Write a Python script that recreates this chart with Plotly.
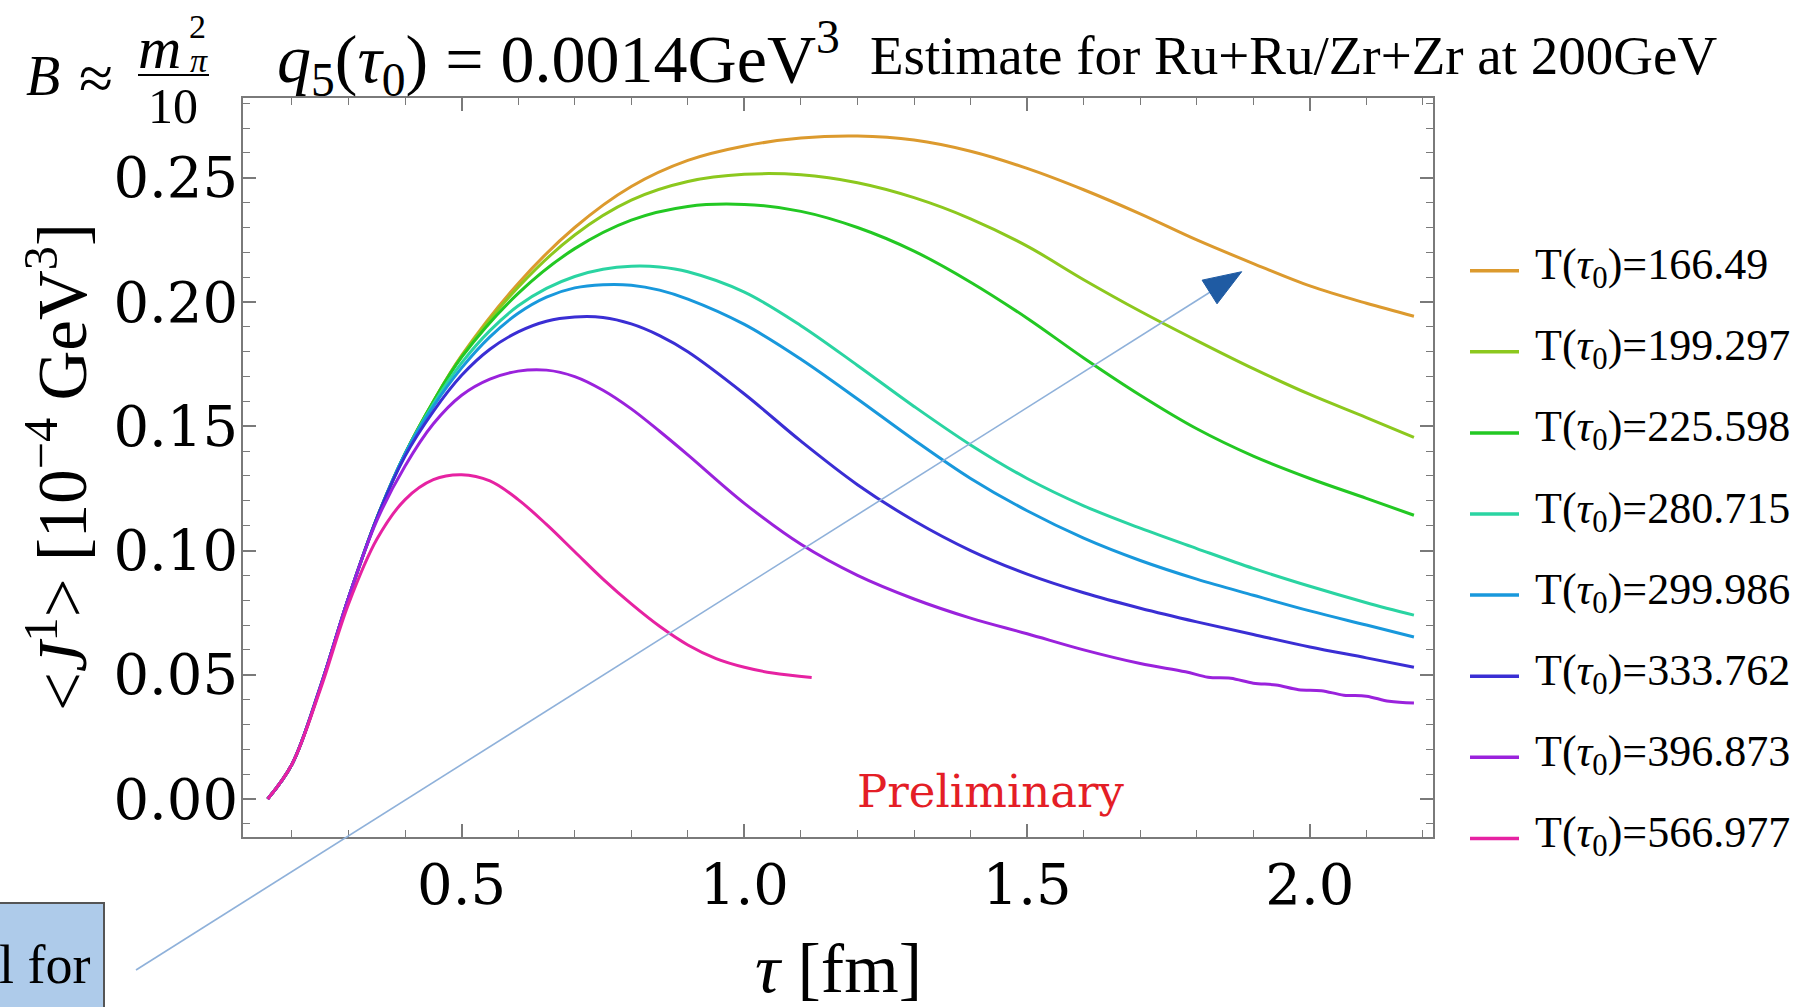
import plotly.graph_objects as go

W, H = 1810, 1007

def PX(x):
    return x / W

def PY(y):
    return 1 - y / H

# ---------------- data ----------------
T0_labels = ["166.49", "199.297", "225.598", "280.715", "299.986", "333.762", "396.873", "566.977"]
colors = ["#dc9a2e", "#8cc81e", "#23c823", "#2ad4a2", "#1898dc", "#3a2ed4", "#9a22dc", "#e622a2"]

tau_166 = [0.157, 0.20, 0.25, 0.30, 0.35, 0.40, 0.45, 0.50, 0.60, 0.70, 0.80, 0.90, 1.00, 1.10, 1.20, 1.30, 1.40, 1.50, 1.60, 1.70, 1.80, 1.90, 2.00, 2.10, 2.184]
J_166 = [0.0, 0.014, 0.045, 0.081, 0.113, 0.139, 0.160, 0.1785, 0.2075, 0.2300, 0.2465, 0.2570, 0.2628, 0.2660, 0.2668, 0.2652, 0.2607, 0.2538, 0.2452, 0.2355, 0.2250, 0.2155, 0.2065, 0.1995, 0.1943]

tau_199 = [0.157, 0.20, 0.25, 0.30, 0.35, 0.40, 0.45, 0.50, 0.60, 0.70, 0.80, 0.90, 1.00, 1.10, 1.20, 1.30, 1.40, 1.50, 1.60, 1.70, 1.80, 1.90, 2.00, 2.10, 2.184]
J_199 = [0.0, 0.014, 0.045, 0.081, 0.113, 0.139, 0.160, 0.1782, 0.2060, 0.2270, 0.2410, 0.2485, 0.2514, 0.2512, 0.2480, 0.2420, 0.2335, 0.2225, 0.2090, 0.1963, 0.1845, 0.1732, 0.1628, 0.1535, 0.1455]

tau_225 = [0.157, 0.20, 0.25, 0.30, 0.35, 0.40, 0.45, 0.50, 0.60, 0.70, 0.80, 0.90, 1.00, 1.10, 1.20, 1.30, 1.40, 1.50, 1.60, 1.70, 1.80, 1.90, 2.00, 2.10, 2.184]
J_225 = [0.0, 0.014, 0.045, 0.081, 0.113, 0.139, 0.160, 0.1778, 0.2035, 0.2215, 0.2330, 0.2385, 0.2393, 0.2365, 0.2300, 0.2205, 0.2080, 0.1935, 0.1775, 0.1625, 0.1490, 0.1380, 0.1290, 0.1210, 0.1142]

tau_280 = [0.157, 0.20, 0.25, 0.30, 0.35, 0.40, 0.45, 0.50, 0.55, 0.60, 0.65, 0.70, 0.75, 0.80, 0.85, 0.90, 1.00, 1.10, 1.20, 1.30, 1.40, 1.50, 1.60, 1.70, 1.80, 1.90, 2.00, 2.10, 2.184]
J_280 = [0.0, 0.014, 0.045, 0.081, 0.113, 0.139, 0.159, 0.1755, 0.1885, 0.1985, 0.2055, 0.2103, 0.2132, 0.2144, 0.2141, 0.2122, 0.2040, 0.1905, 0.1745, 0.1580, 0.1425, 0.1290, 0.1180, 0.1090, 0.1008, 0.0928, 0.0856, 0.0790, 0.0740]

tau_299 = [0.157, 0.20, 0.25, 0.30, 0.35, 0.40, 0.45, 0.50, 0.55, 0.60, 0.65, 0.70, 0.75, 0.80, 0.85, 0.90, 1.00, 1.10, 1.20, 1.30, 1.40, 1.50, 1.60, 1.70, 1.80, 1.90, 2.00, 2.10, 2.184]
J_299 = [0.0, 0.014, 0.045, 0.081, 0.113, 0.139, 0.158, 0.1735, 0.1860, 0.1955, 0.2020, 0.2057, 0.2070, 0.2068, 0.2048, 0.2012, 0.1910, 0.1770, 0.1610, 0.1445, 0.1290, 0.1160, 0.1050, 0.0960, 0.0885, 0.0820, 0.0757, 0.0700, 0.0652]

tau_333 = [0.157, 0.20, 0.25, 0.30, 0.35, 0.40, 0.45, 0.50, 0.55, 0.60, 0.65, 0.70, 0.75, 0.80, 0.85, 0.90, 1.00, 1.10, 1.20, 1.30, 1.40, 1.50, 1.60, 1.70, 1.80, 1.90, 2.00, 2.10, 2.184]
J_333 = [0.0, 0.014, 0.045, 0.081, 0.113, 0.138, 0.156, 0.1705, 0.1810, 0.1880, 0.1923, 0.1940, 0.1938, 0.1912, 0.1865, 0.1800, 0.1630, 0.1440, 0.1265, 0.1120, 0.1000, 0.0905, 0.0830, 0.0768, 0.0713, 0.0662, 0.0612, 0.0568, 0.0530]

tau_396 = [0.157, 0.20, 0.25, 0.30, 0.35, 0.40, 0.45, 0.50, 0.55, 0.60, 0.65, 0.70, 0.75, 0.80, 0.85, 0.90, 1.00, 1.10, 1.20, 1.30, 1.40, 1.50, 1.60, 1.70, 1.78, 1.82, 1.86, 1.90, 1.94, 1.98, 2.02, 2.06, 2.10, 2.14, 2.184]
J_396 = [0.0, 0.014, 0.045, 0.081, 0.112, 0.134, 0.151, 0.1625, 0.1690, 0.1722, 0.1726, 0.1700, 0.1645, 0.1570, 0.1480, 0.1385, 0.1190, 0.1025, 0.0900, 0.0805, 0.0728, 0.0665, 0.0600, 0.0545, 0.0512, 0.0490, 0.0486, 0.0466, 0.0459, 0.0440, 0.0436, 0.0418, 0.0414, 0.0393, 0.0386]

tau_566 = [0.157, 0.20, 0.25, 0.30, 0.35, 0.40, 0.45, 0.50, 0.55, 0.60, 0.65, 0.70, 0.75, 0.80, 0.85, 0.90, 0.95, 1.00, 1.05, 1.119]
J_566 = [0.0, 0.014, 0.044, 0.0785, 0.1045, 0.1205, 0.1285, 0.1305, 0.1280, 0.1205, 0.1105, 0.0995, 0.0885, 0.0785, 0.0695, 0.0620, 0.0565, 0.0530, 0.0507, 0.0489]

series_tau = [tau_166, tau_199, tau_225, tau_280, tau_299, tau_333, tau_396, tau_566]
series_J = [J_166, J_199, J_225, J_280, J_299, J_333, J_396, J_566]

x_ticks = [0.5, 1.0, 1.5, 2.0]
y_ticks = [0.00, 0.05, 0.10, 0.15, 0.20, 0.25]

# ---------------- figure ----------------
fig = go.Figure()
for i in range(len(T0_labels)):
    fig.add_trace(go.Scatter(
        x=series_tau[i], y=series_J[i], mode="lines",
        line=dict(color=colors[i], width=3, shape="spline", smoothing=1.0),
        name="T(τ0)=" + T0_labels[i], showlegend=False, hoverinfo="skip"))

SERIF = "Liberation Serif"
TICKF = "DejaVu Serif"
axis_col = "#7a7a7a"

fig.update_layout(
    width=W, height=H,
    margin=dict(l=0, r=0, t=0, b=0),
    paper_bgcolor="white", plot_bgcolor="white",
    xaxis=dict(
        domain=[PX(243.3), PX(1433)], range=[0.1139, 2.2177],
        tickvals=x_ticks, ticktext=["%.1f" % v for v in x_ticks],
        ticks="inside", ticklen=13, tickwidth=1.5, tickcolor=axis_col,
        showline=True, linecolor=axis_col, linewidth=2, mirror="ticks",
        showgrid=False, zeroline=False,
        tickfont=dict(family=TICKF, size=56, color="black"),
        ticklabelstandoff=-2,
        minor=dict(dtick=0.1, tick0=0, ticks="inside", ticklen=7, tickwidth=1.2, tickcolor=axis_col, showgrid=False),
        automargin=False,
    ),
    yaxis=dict(
        domain=[PY(836.7), PY(98.3)], range=[-0.01517, 0.2820],
        tickvals=y_ticks, ticktext=["%.2f" % v for v in y_ticks],
        ticks="inside", ticklen=13, tickwidth=1.5, tickcolor=axis_col,
        showline=True, linecolor=axis_col, linewidth=2, mirror="ticks",
        showgrid=False, zeroline=False,
        tickfont=dict(family=TICKF, size=56, color="black"),
        ticklabelstandoff=-8,
        minor=dict(dtick=0.01, tick0=0, ticks="inside", ticklen=7, tickwidth=1.2, tickcolor=axis_col, showgrid=False),
        automargin=False,
    ),
)

ann = []
shapes = []

# axis titles
ann.append(dict(x=PX(838), y=PY(968), xref="paper", yref="paper", xanchor="center", yanchor="middle",
                text="<i>τ</i> [fm]", showarrow=False, font=dict(family=SERIF, size=70, color="black")))
ann.append(dict(x=PX(57), y=PY(467), xref="paper", yref="paper", xanchor="center", yanchor="middle", textangle=-90,
                text="&lt;<i>J</i><sup>1</sup>&gt; [10<sup>−4</sup> GeV<sup>3</sup>]", showarrow=False,
                font=dict(family=SERIF, size=69, color="black")))

# title pieces
ann.append(dict(x=PX(24), y=PY(76), xref="paper", yref="paper", xanchor="left", yanchor="middle",
                text="<i>B</i>", showarrow=False, font=dict(family=SERIF, size=56, color="black")))
ann.append(dict(x=PX(96), y=PY(78), xref="paper", yref="paper", xanchor="center", yanchor="middle",
                text="≈", showarrow=False, font=dict(family=SERIF, size=62, color="black")))
ann.append(dict(x=PX(159), y=PY(48), xref="paper", yref="paper", xanchor="center", yanchor="middle",
                text="<i>m</i>", showarrow=False, font=dict(family=SERIF, size=60, color="black")))
ann.append(dict(x=PX(197), y=PY(27), xref="paper", yref="paper", xanchor="center", yanchor="middle",
                text="2", showarrow=False, font=dict(family=SERIF, size=34, color="black")))
ann.append(dict(x=PX(199), y=PY(60), xref="paper", yref="paper", xanchor="center", yanchor="middle",
                text="<i>π</i>", showarrow=False, font=dict(family=SERIF, size=34, color="black")))
shapes.append(dict(type="line", xref="paper", yref="paper", x0=PX(138), x1=PX(209), y0=PY(75), y1=PY(75),
                   line=dict(color="black", width=2)))
ann.append(dict(x=PX(173), y=PY(106), xref="paper", yref="paper", xanchor="center", yanchor="middle",
                text="10", showarrow=False, font=dict(family=SERIF, size=50, color="black")))
ann.append(dict(x=PX(275), y=PY(58), xref="paper", yref="paper", xanchor="left", yanchor="middle",
                text="<i>q</i><sub>5</sub>(<i>τ</i><sub>0</sub>) = 0.0014GeV<sup>3</sup>", showarrow=False,
                font=dict(family=SERIF, size=68, color="black")))
ann.append(dict(x=PX(868), y=PY(56), xref="paper", yref="paper", xanchor="left", yanchor="middle",
                text="Estimate for Ru+Ru/Zr+Zr at 200GeV", showarrow=False,
                font=dict(family=SERIF, size=55, color="black")))

# Preliminary
ann.append(dict(x=PX(991), y=PY(791), xref="paper", yref="paper", xanchor="center", yanchor="middle",
                text="Preliminary", showarrow=False, font=dict(family="DejaVu Serif", size=45, color="#e41e26")))

# legend (manual)
for i, lab in enumerate(T0_labels):
    yc = 270.7 + 81.1 * i
    shapes.append(dict(type="line", xref="paper", yref="paper", x0=PX(1470), x1=PX(1519), y0=PY(yc), y1=PY(yc),
                       line=dict(color=colors[i], width=3.5)))
    ann.append(dict(x=PX(1533), y=PY(yc - 3), xref="paper", yref="paper", xanchor="left", yanchor="middle",
                    text="T(<i>τ</i><sub>0</sub>)=" + lab, showarrow=False,
                    font=dict(family=SERIF, size=44, color="black")))

# arrow
tx, ty = 1241.7, 271.7
sx0, sy0 = 136, 970
shapes.append(dict(type="line", xref="paper", yref="paper", x0=PX(sx0), y0=PY(sy0), x1=PX(1215), y1=PY(289),
                   line=dict(color="#8fb1da", width=1.6)))
ux, uy = (tx - sx0), (ty - sy0)
L = (ux ** 2 + uy ** 2) ** 0.5
ux, uy = ux / L, uy / L
bx, by = tx - 38 * ux, ty - 38 * uy
nx, ny = -uy, ux
p1 = (bx + 14 * nx, by + 14 * ny)
p2 = (bx - 14 * nx, by - 14 * ny)
path = "M %f,%f L %f,%f L %f,%f Z" % (PX(tx), PY(ty), PX(p1[0]), PY(p1[1]), PX(p2[0]), PY(p2[1]))
shapes.append(dict(type="path", xref="paper", yref="paper", path=path, fillcolor="#1f5ba3",
                   line=dict(color="#1f5ba3", width=1)))

# bottom-left box fragment
shapes.append(dict(type="rect", xref="paper", yref="paper", x0=PX(-5), x1=PX(104), y0=PY(1012), y1=PY(903),
                   fillcolor="#aecbea", line=dict(color="#555555", width=2), layer="below"))
ann.append(dict(x=PX(92), y=PY(965), xref="paper", yref="paper", xanchor="right", yanchor="middle",
                text="l for", showarrow=False, font=dict(family=SERIF, size=54, color="black")))

fig.update_layout(annotations=ann, shapes=shapes)
fig.write_html("out.html")
